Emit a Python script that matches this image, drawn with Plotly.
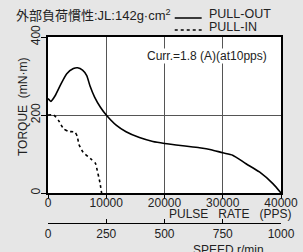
import plotly.graph_objects as go

# ---- data ----
pulse_out = [0, 500, 1250, 2100, 3220, 4360, 5080, 5930, 6650, 7200, 8000, 9000, 10000,
             11700, 13400, 15700, 18000, 20000, 23150, 26000, 28000, 30000, 31700,
             34000, 36300, 38600, 40000]
torque_out = [242, 235, 250, 276, 306, 319, 321, 315, 301, 275, 246, 220, 200,
              174, 157, 142, 132, 127, 121, 116, 111, 103, 97,
              75, 54, 24, 0]

pulse_in = [0, 970, 1810, 2660, 3510, 4640, 5030, 5300, 6000, 7300, 8150, 8450, 8900, 9200]
torque_in = [200, 200, 186, 165, 158, 156, 145, 125, 105, 88, 76, 58, 28, 0]

pulse_ticks = [0, 10000, 20000, 30000, 40000]
torque_ticks = [0, 200, 400]
speed_ticks = [0, 250, 500, 750, 1000]

series_names = ["PULL-OUT", "PULL-IN"]

FONT = "Liberation Sans, Arial, Noto Sans CJK JP, sans-serif"
TXT = "#222222"

# geometry helpers (pixels -> paper)
L, R, T, B = 48, 21.5, 37, 29
W, H = 303, 252
PW = W - L - R
PH = H - T - B
def px(x):
    return (x - L) / PW
def py(y):
    return (H - B - y) / PH

fig = go.Figure()
fig.add_trace(go.Scatter(x=pulse_out, y=torque_out, mode="lines", name=series_names[0],
                         line=dict(color="black", width=1.6, shape="spline", smoothing=0.6),
                         showlegend=False, hoverinfo="skip"))
fig.add_trace(go.Scatter(x=pulse_in, y=torque_in, mode="lines", name=series_names[1],
                         line=dict(color="black", width=1.6, dash="dot", shape="spline", smoothing=0.5),
                         showlegend=False, hoverinfo="skip"))
# carrier trace for speed axis
fig.add_trace(go.Scatter(x=[speed_ticks[0], speed_ticks[-1]], y=[None, None], xaxis="x2",
                         mode="lines", showlegend=False, hoverinfo="skip"))

plot_bottom_px = 193
ydom0 = py(plot_bottom_px)

fig.update_layout(
    width=W, height=H,
    margin=dict(l=L, r=R, t=T, b=B, pad=0, autoexpand=False),
    paper_bgcolor="#e6e6e6",
    plot_bgcolor="white",
    font=dict(family=FONT, size=12, color=TXT),
    showlegend=False,
    xaxis=dict(range=[0, 40000], tickvals=pulse_ticks, ticktext=[str(v) for v in pulse_ticks],
               ticks="outside", ticklen=4, tickcolor="black", ticklabelstandoff=-6,
               showline=True, linecolor="black", linewidth=1.5, mirror=True,
               showgrid=True, gridcolor="#555555", gridwidth=1, zeroline=False,
               anchor="y", tickfont=dict(size=12, color=TXT), automargin=False),
    yaxis=dict(range=[0, 400], tickvals=torque_ticks, domain=[ydom0, 1],
               ticks="outside", ticklen=5, tickcolor="black", tickangle=-90,
               ticklabelstandoff=-4,
               showline=True, linecolor="black", linewidth=1.5, mirror=True,
               showgrid=True, gridcolor="#555555", gridwidth=1, zeroline=False,
               tickfont=dict(size=12, color=TXT), automargin=False),
    xaxis2=dict(range=[0, 1000], tickvals=speed_ticks, overlaying="x", anchor="free",
                position=0, side="bottom", ticks="inside", ticklen=4, tickcolor="black",
                showline=True, linecolor="black", linewidth=1, showgrid=False, zeroline=False,
                tickfont=dict(size=12, color=TXT), automargin=False),
)

# legend keys (drawn in paper space)
fig.add_shape(type="line", xref="paper", yref="paper", x0=px(175), x1=px(202),
              y0=py(18), y1=py(18), line=dict(color="black", width=1.5))
fig.add_shape(type="line", xref="paper", yref="paper", x0=px(175), x1=px(202),
              y0=py(30), y1=py(30), line=dict(color="black", width=1.5, dash="dot"))

ann = [
    dict(text="外部負荷慣性:JL:142g·cm<sup>2</sup>", x=px(14), y=py(15), xanchor="left",
         yanchor="middle", font=dict(size=13, color=TXT)),
    dict(text=series_names[0], x=px(207), y=py(14), xanchor="left", yanchor="middle",
         font=dict(size=12.5, color=TXT)),
    dict(text=series_names[1], x=px(207), y=py(27), xanchor="left", yanchor="middle",
         font=dict(size=12.5, color=TXT)),
    dict(text="Curr.=1.8 (A)(at10pps)", x=px(207), y=py(56), xanchor="center",
         yanchor="middle", bgcolor="white", borderpad=0, font=dict(size=12, color=TXT)),
    dict(text="PULSE\u00a0\u00a0\u00a0RATE\u00a0\u00a0\u00a0(PPS)", x=px(294), y=py(214),
         xanchor="right", yanchor="middle", font=dict(size=12, color=TXT)),
    dict(text="SPEED r/min", x=px(266), y=py(241), xanchor="right", yanchor="top",
         font=dict(size=12, color=TXT)),
    dict(text="TORQUE\u00a0\u00a0(mN·m)", x=px(23), y=py(107), xanchor="center",
         yanchor="middle", textangle=-90, font=dict(size=12, color=TXT)),
]
for a in ann:
    a.update(xref="paper", yref="paper", showarrow=False)
fig.update_layout(annotations=ann)

fig.write_html("out.html", config={"displayModeBar": False},
               post_script="document.body.style.margin='0px';document.body.style.padding='0px';")
